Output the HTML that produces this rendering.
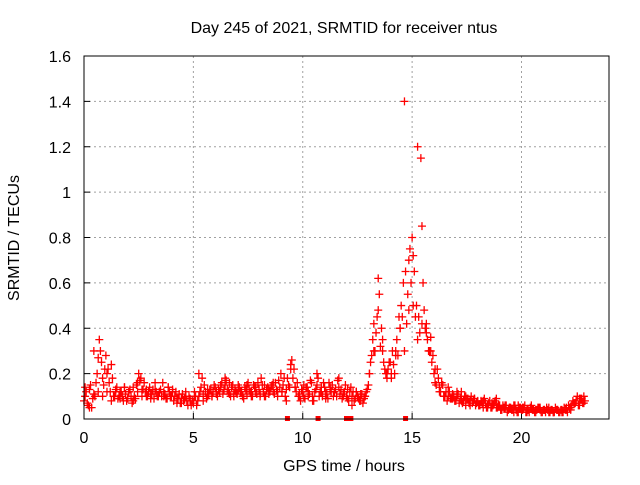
<!DOCTYPE html>
<html><head><meta charset="utf-8"><style>
body{margin:0;background:#fff}
svg text{font-family:"Liberation Sans",sans-serif;font-size:16px;fill:#000}
</style></head><body>
<svg id="chart" width="640" height="480">
<rect width="640" height="480" fill="#fff"/>
<text x="344" y="33" text-anchor="middle">Day 245 of 2021, SRMTID for receiver ntus</text>
<text x="344" y="471" text-anchor="middle">GPS time / hours</text>
<text transform="translate(19,238) rotate(-90)" text-anchor="middle">SRMTID / TECUs</text>
<g id="grid"></g><g id="ticks"></g><g id="marks"></g>
<rect x="84" y="56" width="525" height="363" fill="none" stroke="#000" stroke-width="1"/>
</svg>
<script>
const xTicks=[0,5,10,15,20];
const yTicks=[0,0.2,0.4,0.6,0.8,1,1.2,1.4,1.6];
const yTickLabels=["0","0.2","0.4","0.6","0.8","1","1.2","1.4","1.6"];
const seriesA=[0.08,0.12,0.06,0.15,0.09,0.1,0.2,0.35,0.25,0.15,0.28,0.22,0.12,0.18,0.1,0.14,0.1,0.12,0.08,0.11,0.09,0.13,0.07,0.1,0.15,0.2,0.18,0.13,0.12,0.1,0.14,0.11,0.09,0.12,0.1,0.13,0.16,0.11,0.09,0.12,0.1,0.08,0.12,0.09,0.07,0.11,0.09,0.08,0.1,0.06,0.07,0.1,0.08,0.12,0.18,0.15,0.09,0.11,0.13,0.12,0.14,0.1,0.12,0.16,0.13,0.17,0.12,0.1,0.15,0.13,0.11,0.14,0.12,0.09,0.13,0.16,0.12,0.1,0.14,0.11,0.13,0.18,0.12,0.1,0.14,0.12,0.15,0.11,0.13,0.17,0.2,0.15,0.1,0.18,0.14,0.26,0.22,0.12,0.1,0.08,0.12,0.09,0.14,0.11,0.16,0.08,0.13,0.18,0.12,0.1,0.14,0.11,0.16,0.12,0.1,0.13,0.17,0.11,0.09,0.12,0.1,0.08,0.14,0.12,0.09,0.1,0.08,0.11,0.09,0.12,0.15,0.25,0.35,0.3,0.45,0.55,0.4,0.25,0.2,0.22,0.25,0.3,0.2,0.35,0.45,0.5,0.6,0.65,0.55,0.75,0.8,0.65,0.5,0.45,1.15,0.6,0.4,0.35,0.3,0.25,0.2,0.15,0.18,0.12,0.15,0.1,0.08,0.12,0.09,0.1,0.08,0.11,0.09,0.07,0.1,0.09,0.07,0.1,0.08,0.06,0.08,0.06,0.07,0.09,0.05,0.07,0.05,0.06,0.08,0.05,0.06,0.04,0.05,0.06,0.04,0.05,0.04,0.06,0.03,0.05,0.04,0.05,0.03,0.04,0.05,0.04,0.03,0.04,0.05,0.03,0.04,0.03,0.04,0.03,0.04,0.03,0.04,0.03,0.04,0.03,0.04,0.03,0.05,0.06,0.07,0.08,0.06,0.09,0.07,0.08];
const seriesB=[0.14,0.05,0.3,0.12,0.1,0.2,0.08,0.12,0.09,0.14,0.12,0.08,0.16,0.1,0.13,0.09,0.13,0.12,0.1,0.14,0.12,0.09,0.07,0.1,0.08,0.12,0.2,0.08,0.13,0.1,0.12,0.15,0.18,0.11,0.1,0.13,0.1,0.15,0.12,0.14,0.1,0.15,0.13,0.16,0.12,0.12,0.08,0.24,0.14,0.1,0.15,0.1,0.08,0.2,0.12,0.09,0.14,0.12,0.18,0.1,0.13,0.06,0.12,0.08,0.1,0.2,0.3,0.62,0.35,0.2,0.18,0.28,0.4,1.4,0.7,0.72,1.2,0.42,0.38,0.3,0.22,0.12,0.1,0.14,0.09,0.12,0.08,0.1,0.06,0.09,0.06,0.08,0.05,0.07,0.09,0.04,0.06,0.05,0.03,0.06,0.05,0.03,0.06,0.04,0.05,0.04,0.05,0.03,0.04,0.03,0.05,0.04,0.07,0.09,0.1];
const seriesC=[0.1,0.07,0.13,0.05,0.11,0.16,0.27,0.3,0.18,0.22,0.12,0.16,0.24,0.1,0.13,0.09,0.12,0.1,0.14,0.08,0.12,0.1,0.14,0.09,0.12,0.17,0.13,0.16,0.1,0.12,0.11,0.13,0.16,0.1,0.12,0.1,0.12,0.09,0.14,0.1,0.13,0.1,0.07,0.11,0.09,0.08,0.12,0.06,0.09,0.08,0.1,0.06,0.1,0.14,0.11,0.12,0.1,0.13,0.1,0.15,0.11,0.13,0.14,0.11,0.15,0.13,0.16,0.14,0.11,0.12,0.15,0.12,0.1,0.14,0.11,0.13,0.1,0.15,0.12,0.16,0.11,0.15,0.1,0.13,0.11,0.14,0.12,0.16,0.1,0.14,0.12,0.18,0.13,0.15,0.22,0.18,0.14,0.16,0.11,0.13,0.1,0.14,0.12,0.17,0.1,0.12,0.15,0.1,0.14,0.16,0.12,0.09,0.13,0.15,0.12,0.1,0.14,0.13,0.11,0.15,0.09,0.12,0.1,0.08,0.12,0.09,0.11,0.07,0.1,0.13,0.2,0.28,0.42,0.38,0.48,0.32,0.3,0.22,0.18,0.25,0.2,0.24,0.3,0.28,0.4,0.45,0.3,0.42,0.48,0.6,0.5,0.45,0.35,0.38,0.85,0.48,0.42,0.3,0.36,0.28,0.16,0.22,0.14,0.16,0.1,0.12,0.1,0.09,0.11,0.08,0.1,0.07,0.12,0.08,0.06,0.09,0.08,0.07,0.09,0.07,0.06,0.08,0.05,0.07,0.06,0.08,0.05,0.07,0.05,0.06,0.04,0.06,0.05,0.03,0.05,0.04,0.06,0.04,0.03,0.05,0.04,0.06,0.04,0.03,0.05,0.04,0.03,0.05,0.04,0.03,0.04,0.05,0.03,0.04,0.03,0.05,0.04,0.03,0.04,0.05,0.04,0.06,0.05,0.08,0.07,0.1,0.06,0.09,0.07];
const gapTimes=[9.3,10.7,12.0,12.2,14.7];
const X=t=>84+t*(525/24), Y=v=>419-v*(363/1.6);
const NS="http://www.w3.org/2000/svg";
const grid=document.getElementById('grid'),ticks=document.getElementById('ticks'),marks=document.getElementById('marks');
function mk(tag,attrs,parent){const e=document.createElementNS(NS,tag);for(const k in attrs)e.setAttribute(k,attrs[k]);parent.appendChild(e);return e;}
xTicks.forEach(t=>{
 if(t>0){const g=mk('line',{x1:X(t),x2:X(t),y1:56,y2:419,stroke:'#a0a0a0','stroke-dasharray':'2,3'},grid);
 
 }
 mk('line',{x1:X(t),x2:X(t),y1:419,y2:413,stroke:'#000'},ticks);
 const l=mk('text',{x:X(t),y:443,'text-anchor':'middle'},ticks);l.textContent=t;
 
 
});
yTicks.forEach((v,i)=>{
 if(v>0&&v<1.6){const g=mk('line',{x1:84,x2:609,y1:Y(v),y2:Y(v),stroke:'#a0a0a0','stroke-dasharray':'2,3'},grid);
 
 }
 mk('line',{x1:84,x2:90,y1:Y(v),y2:Y(v),stroke:'#000'},ticks);
 const l=mk('text',{x:71,y:Y(v)+6,'text-anchor':'end'},ticks);l.textContent=yTickLabels[i];
 
 
});
function plus(t,v){
 const x=X(t),y=Y(v);
 const p=mk('path',{d:`M${x-4},${y}H${x+4}M${x},${y-4}V${y+4}`,stroke:'#ff0000','stroke-width':1.3,fill:'none'},marks);
 
 
}
seriesA.forEach((v,i)=>plus(i*0.1,v));
seriesB.forEach((v,i)=>plus(0.05+i*0.2,v));
seriesC.forEach((v,i)=>plus(0.05+i*0.1,v));
gapTimes.forEach(t=>{
 const r=mk('rect',{x:X(t)-2.5,y:416,width:5,height:5,fill:'#ff0000'},marks);
 
 
});
</script>
</body></html>
